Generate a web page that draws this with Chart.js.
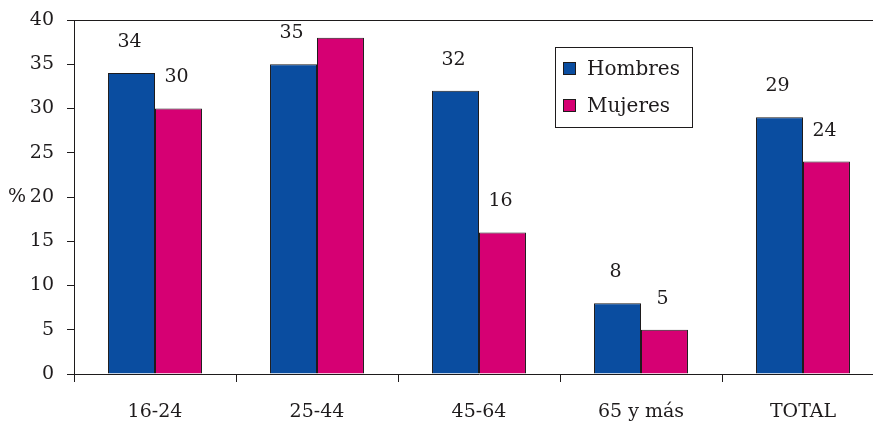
<!DOCTYPE html>
<html>
<head>
<meta charset="utf-8">
<script src="https://cdn.jsdelivr.net/npm/chart.js@4.4.1/dist/chart.umd.min.js"></script>
<style>
  html, body { margin: 0; padding: 0; background: #fff; overflow: hidden; }
  #wrap { width: 884px; height: 427px; }
</style>
</head>
<body>
<div id="wrap"><canvas id="c"></canvas></div>
<script>
const categories = ['16-24', '25-44', '45-64', '65 y más', 'TOTAL'];
const hombres = [34, 35, 32, 8, 29];
const mujeres = [30, 38, 16, 5, 24];
// which bars carry a value label
const hombresLabelled = [true, true, true, true, true];
const mujeresLabelled = [true, false, true, true, true];
const yTicks = [0, 5, 10, 15, 20, 25, 30, 35, 40];

const INK = '#1e1b1c';
const FONT = '"DejaVu Serif", serif';

const decorations = {
  id: 'decorations',
  afterDatasetsDraw(chart) {
    const ctx = chart.ctx;
    const a = chart.chartArea;
    ctx.save();
    // top frame line
    ctx.strokeStyle = INK;
    ctx.lineWidth = 1;
    ctx.beginPath();
    ctx.moveTo(a.left, Math.round(a.top) + 0.5);
    ctx.lineTo(a.right, Math.round(a.top) + 0.5);
    ctx.stroke();

    // value labels
    ctx.fillStyle = INK;
    ctx.font = '19px ' + FONT;
    ctx.textAlign = 'center';
    ctx.textBaseline = 'middle';
    const flags = [hombresLabelled, mujeresLabelled];
    chart.data.datasets.forEach((ds, di) => {
      const meta = chart.getDatasetMeta(di);
      meta.data.forEach((bar, i) => {
        if (!flags[di][i]) return;
        ctx.fillText(String(ds.data[i]), bar.x - 2, bar.y - 31);
      });
    });

    // axis unit
    const y20 = chart.scales.y.getPixelForValue(20);
    ctx.textAlign = 'left';
    ctx.font = '19px ' + FONT;
    ctx.fillText('%', 8, y20);

    // legend box
    ctx.strokeStyle = INK;
    ctx.strokeRect(555.5, 47.5, 137, 80);
    ctx.font = '20px ' + FONT;
    ctx.textBaseline = 'alphabetic';
    const rows = [75, 112];
    chart.data.datasets.forEach((ds, di) => {
      const base = rows[di];
      ctx.fillStyle = ds.backgroundColor;
      ctx.fillRect(563, base - 13, 13, 13);
      ctx.strokeStyle = INK;
      ctx.strokeRect(563.5, base - 12.5, 12, 12);
      ctx.fillStyle = INK;
      ctx.fillText(ds.label, 587, base);
    });
    ctx.restore();
  }
};

new Chart(document.getElementById('c'), {
  type: 'bar',
  data: {
    labels: categories,
    datasets: [
      { label: 'Hombres', data: hombres, backgroundColor: '#0a4da0', borderColor: INK, borderWidth: 1 },
      { label: 'Mujeres', data: mujeres, backgroundColor: '#d60073', borderColor: INK, borderWidth: 1 }
    ]
  },
  options: {
    responsive: true,
    maintainAspectRatio: false,
    animation: false,
    layout: { padding: { top: 20, right: 0, bottom: 0, left: 0 } },
    datasets: { bar: { categoryPercentage: 0.58, barPercentage: 1 } },
    plugins: { legend: { display: false }, tooltip: { enabled: false } },
    scales: {
      x: {
        grid: { offset: true, drawOnChartArea: false, tickLength: 8, color: INK },
        border: { color: INK },
        ticks: { color: INK, font: { family: FONT, size: 19 }, padding: 19, maxRotation: 0 },
        afterFit(s) { s.height = 53; }
      },
      y: {
        min: 0, max: 40,
        afterBuildTicks(s) { s.ticks = yTicks.map(v => ({ value: v })); },
        grid: { drawOnChartArea: false, tickLength: 7, color: INK },
        border: { color: INK },
        ticks: { color: INK, font: { family: FONT, size: 19 }, padding: 13 },
        afterFit(s) { s.width = 74; s.paddingTop = 0; }
      }
    }
  },
  plugins: [decorations]
});
</script>
</body>
</html>
